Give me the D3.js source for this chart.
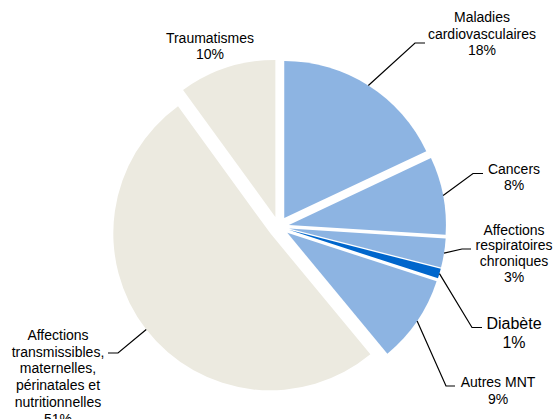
<!DOCTYPE html>
<html>
<head>
<meta charset="utf-8">
<script src="https://cdn.jsdelivr.net/npm/d3@7"></script>
<style>
  body { margin: 0; background: #fff; }
  text { font-family: "Liberation Sans", Arial, sans-serif; fill: #000; }
</style>
</head>
<body>
<script>
// data
var categories = ["Maladies cardiovasculaires", "Cancers", "Affections respiratoires chroniques",
                  "Diabète", "Autres MNT",
                  "Affections transmissibles, maternelles, périnatales et nutritionnelles", "Traumatismes"];
var values = [18, 8, 3, 1, 9, 51, 10];
var labelLines = [["Maladies", "cardiovasculaires"], ["Cancers"], ["Affections", "respiratoires", "chroniques"],
                  ["Diabète"], ["Autres MNT"],
                  ["Affections", "transmissibles,", "maternelles,", "périnatales et", "nutritionnelles"], ["Traumatismes"]];
var sliceColors = ["#8db4e2", "#8db4e2", "#8db4e2", "#0066cc", "#8db4e2", "#eceae0", "#eceae0"];

// label layout: text centre x, first line y, line height, font size, leader elbow/end
var labelPos = [
  {x: 482, y: 17, lh: 16.6, fs: 14, elbow: [415, 43], end: [425, 43]},
  {x: 514, y: 168.5, lh: 16.6, fs: 14, elbow: [473, 173.5], end: [483, 173.5]},
  {x: 514, y: 229.5, lh: 15.8, fs: 14, elbow: [462, 249], end: [471, 249]},
  {x: 514, y: 323, lh: 19, fs: 16, elbow: [472, 327.5], end: [482, 327.5]},
  {x: 498, y: 382, lh: 16.6, fs: 14, elbow: [446, 386], end: [455, 386]},
  {x: 58, y: 335, lh: 16.7, fs: 14, elbow: [118, 353], end: [108, 353]},
  {x: 210, y: 37.5, lh: 16, fs: 14, elbow: null, end: null}
];

var window_w = 555, window_h = 419;
var cx = 278.6, cy = 226.9, radius = 157, explode = 10.5;

var svg = d3.select("body").append("svg")
    .attr("width", window_w)
    .attr("height", window_h);

var pie = d3.pie().sort(null).value(function(d) { return d; });
var arcs = pie(values);

var arc = d3.arc().innerRadius(0).outerRadius(radius);

function dir(a) { return [Math.sin(a), -Math.cos(a)]; }

var g = svg.append("g").attr("transform", "translate(" + cx + "," + cy + ")");

g.selectAll("path.slice").data(arcs).enter()
  .append("path")
    .attr("class", "slice")
    .attr("fill", function(d, i) { return sliceColors[i]; })
    .attr("transform", function(d) {
        var u = dir((d.startAngle + d.endAngle) / 2);
        return "translate(" + (u[0] * explode) + "," + (u[1] * explode) + ")";
    })
    .attr("d", arc);

// leader lines
arcs.forEach(function(d, i) {
    var p = labelPos[i];
    if (!p.elbow) return;
    var u = dir((d.startAngle + d.endAngle) / 2);
    var sx = cx + u[0] * (radius + explode), sy = cy + u[1] * (radius + explode);
    svg.append("path")
      .attr("d", "M" + sx + "," + sy + "L" + p.elbow[0] + "," + p.elbow[1] + "L" + p.end[0] + "," + p.end[1])
      .attr("fill", "none")
      .attr("stroke", "#000")
      .attr("stroke-width", 1.2);
});

// labels
arcs.forEach(function(d, i) {
    var p = labelPos[i];
    var lines = labelLines[i].concat([Math.round(values[i]) + "%"]);
    var t = svg.append("text")
      .attr("text-anchor", "middle")
      .style("font-size", p.fs + "px");
    lines.forEach(function(s, k) {
        t.append("tspan")
          .attr("x", p.x)
          .attr("y", p.y + k * p.lh)
          .attr("dominant-baseline", "central")
          .text(s);
    });
});
</script>
</body>
</html>
